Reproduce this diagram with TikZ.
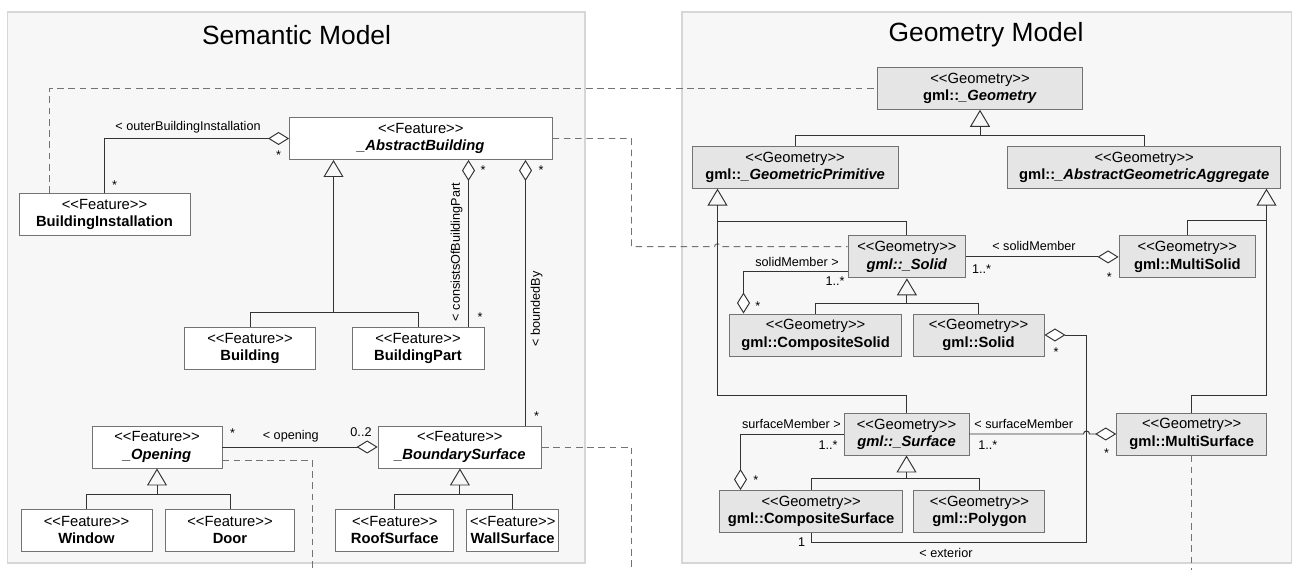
\documentclass[tikz,border=0pt]{standalone}
\usepackage{fontspec}
\newfontfamily\umlfont{Liberation Sans}
\usetikzlibrary{arrows.meta,calc}
\definecolor{panelfill}{HTML}{F7F7F7}
\definecolor{paneldraw}{HTML}{D6D6D6}
\definecolor{geofill}{HTML}{E5E5E5}
\newcommand{\stereo}[1]{<<#1>>}

\begin{document}
\begin{tikzpicture}[
    x=0.2mm, y=-0.2mm,
    line width=0.55pt,
    panel/.style={draw=paneldraw, fill=panelfill, line width=1pt},
    title/.style={font=\umlfont\fontsize{15}{18}\selectfont},
    cls/.style={draw=black!55, fill=white, align=center, inner sep=0pt,
        minimum height=8.4mm, font=\umlfont\fontsize{8.4}{9.8}\selectfont},
    geo/.style={cls, fill=geofill},
    gen/.style={draw=black!80, -{Triangle[open, width=4mm, length=3.4mm]}},
    agg/.style={draw=black!80, -{Diamond[fill=white, width=2.6mm, length=4.2mm]}},
    assoc/.style={draw=black!80},
    dep/.style={draw=black!55, dash pattern=on 3.8pt off 2.6pt},
    lbl/.style={font=\umlfont\fontsize{7.2}{8}\selectfont, inner sep=0pt}
]
    \useasboundingbox (0,0) rectangle (1293,570);

    % Panels
    \draw[panel] (7.5,11.7) rectangle (585,563);
    \draw[panel] (682,11.7) rectangle (1291.5,563);
    \node[title] (semTitle) at (296.5,35) {Semantic Model};
    \node[title] (geoTitle) at (986,35) {Geometry Model};

    % Semantic classes
    \node[cls, minimum width=52.5mm] (abstrBldg) at (420.8,138.5) {\stereo{Feature}\\\textbf{\textit{\_AbstractBuilding}}};
    \node[cls, minimum width=34.2mm] (bldgInst) at (104.5,214.5) {\stereo{Feature}\\\textbf{BuildingInstallation}};
    \node[cls, minimum width=26.3mm] (bldg) at (250,348.3) {\stereo{Feature}\\\textbf{Building}};
    \node[cls, minimum width=26.4mm] (bldgPart) at (418,348.3) {\stereo{Feature}\\\textbf{BuildingPart}};
    \node[cls, minimum width=26mm] (opening) at (157,447) {\stereo{Feature}\\\textbf{\textit{\_Opening}}};
    \node[cls, minimum width=32.7mm] (bndSurf) at (459.9,447) {\stereo{Feature}\\\textbf{\textit{\_BoundarySurface}}};
    \node[cls, minimum width=26.2mm] (window) at (86.5,530) {\stereo{Feature}\\\textbf{Window}};
    \node[cls, minimum width=25.8mm] (door) at (230,530) {\stereo{Feature}\\\textbf{Door}};
    \node[cls, minimum width=23.6mm] (roof) at (394.8,530) {\stereo{Feature}\\\textbf{RoofSurface}};
    \node[cls, minimum width=18.5mm] (wall) at (512.7,530) {\stereo{Feature}\\\textbf{WallSurface}};

    % Geometry classes
    \node[geo, minimum width=41.1mm] (geometry) at (980,88.3) {\stereo{Geometry}\\\textbf{gml::\textit{\_Geometry}}};
    \node[geo, minimum width=41.2mm] (primitive) at (795.1,167.2) {\stereo{Geometry}\\\textbf{gml::\textit{\_GeometricPrimitive}}};
    \node[geo, minimum width=54.6mm] (aggregate) at (1144.2,167.2) {\stereo{Geometry}\\\textbf{gml::\textit{\_AbstractGeometricAggregate}}};
    \node[geo, minimum width=23.5mm] (solidA) at (906.9,256.9) {\stereo{Geometry}\\\textbf{\textit{gml::\_Solid}}};
    \node[geo, minimum width=27.3mm] (multiSolid) at (1187.3,256.9) {\stereo{Geometry}\\\textbf{gml::MultiSolid}};
    \node[geo, minimum width=34.4mm] (compSolid) at (815.6,335) {\stereo{Geometry}\\\textbf{gml::CompositeSolid}};
    \node[geo, minimum width=26.2mm] (solid) at (978.5,335) {\stereo{Geometry}\\\textbf{gml::Solid}};
    \node[geo, minimum width=25mm] (surfA) at (906.5,434) {\stereo{Geometry}\\\textbf{\textit{gml::\_Surface}}};
    \node[geo, minimum width=30mm] (multiSurf) at (1191.7,434) {\stereo{Geometry}\\\textbf{gml::MultiSurface}};
    \node[geo, minimum width=36.5mm] (compSurf) at (811.2,511.5) {\stereo{Geometry}\\\textbf{gml::CompositeSurface}};
    \node[geo, minimum width=26.2mm] (polygon) at (979.4,511.5) {\stereo{Geometry}\\\textbf{gml::Polygon}};

    % Dependencies semantic -> geometry
    \draw[dep] (49.5,0 |- bldgInst.north) |- (geometry.west);
    \draw[dep] (abstrBldg.east) -| (631.5,246.7) -- (714.5,246.7)
        arc[start angle=180, end angle=0, radius=0.6mm] -- (solidA.west |- 0,246.7);
    \draw[dep] (bndSurf.east) -| (631.5,570);
    \draw[dep] (opening.east |- 0,460) -| (312.5,570);
    \draw[dep] (multiSurf.south) -- (multiSurf.south |- 0,570);

    % Semantic generalisations
    \draw[gen] (bldg.north) |- (333.5,312.5) -- (333.5,0 |- abstrBldg.south);
    \draw[assoc] (bldgPart.north) |- (333.5,312.5);
    \draw[gen] (window.north) |- (opening.south |- 0,494.5) -- (opening.south);
    \draw[assoc] (door.north) |- (opening.south |- 0,494.5);
    \draw[gen] (roof.north) |- (bndSurf.south |- 0,494.5) -- (bndSurf.south);
    \draw[assoc] (wall.north) |- (bndSurf.south |- 0,494.5);

    % Semantic aggregations
    \draw[agg] (bldgInst.north) |- (abstrBldg.west);
    \draw[agg] (468.5,0 |- bldgPart.north) -- (468.5,0 |- abstrBldg.south);
    \draw[agg] (525.5,0 |- bndSurf.north) -- (525.5,0 |- abstrBldg.south);
    \draw[agg] (opening.east) -- (bndSurf.west);

    \node[lbl] (lOuter) at (188,127.7) {< outerBuildingInstallation};
    \node[lbl] at (278.6,155) {*};
    \node[lbl] at (114.5,185) {*};
    \node[lbl] at (483,170) {*};
    \node[lbl] at (541,170) {*};
    \node[lbl] at (480,316.7) {*};
    \node[lbl] at (536.6,415.7) {*};
    \node[lbl, rotate=90] (lParts) at (456.6,252) {< consistsOfBuildingPart};
    \node[lbl, rotate=90] (lBounded) at (536.6,309) {< boundedBy};
    \node[lbl] (lOpening) at (290.8,436.7) {< opening};
    \node[lbl] at (232.7,433) {*};
    \node[lbl] at (361,431.7) {0..2};

    % Geometry generalisations
    \draw[gen] (primitive.north) |- (geometry.south |- 0,135.5) -- (geometry.south);
    \draw[assoc] (aggregate.north) |- (geometry.south |- 0,135.5);
    \draw[gen] (surfA.north) |- (717.5,395.5) -- (717.5,0 |- primitive.south);
    \draw[assoc] (solidA.north) |- (717.5,221.5);
    \draw[gen] (multiSurf.north) |- (1266.5,395.5) -- (1266.5,0 |- aggregate.south);
    \draw[assoc] (multiSolid.north) |- (1266.5,220.5);
    \draw[gen] (compSolid.north) |- (solidA.south |- 0,303.5) -- (solidA.south);
    \draw[assoc] (solid.north) |- (solidA.south |- 0,303.5);
    \draw[gen] (compSurf.north) |- (surfA.south |- 0,478.5) -- (surfA.south);
    \draw[assoc] (polygon.north) |- (surfA.south |- 0,478.5);

    % Geometry aggregations
    \draw[agg] (solidA.east) -- (multiSolid.west);
    \draw[agg] (solidA.west |- 0,271.5) -| (743.5,0 |- compSolid.north);
    \draw[agg] (surfA.west) -| (740.5,0 |- compSurf.north);
    \draw[agg] (surfA.east) -- (1083.5,434)
        arc[start angle=180, end angle=0, radius=0.6mm] -- (multiSurf.west);
    \draw[agg] (compSurf.south) |- (1086.5,542.5) |- (solid.east);

    \node[lbl] (lSolidR) at (1034,245.7) {< solidMember};
    \node[lbl] at (981.5,269.3) {1..*};
    \node[lbl] at (1109.4,276.7) {*};
    \node[lbl] (lSolidL) at (797,261.7) {solidMember >};
    \node[lbl] at (835,281) {1..*};
    \node[lbl] at (757.9,306) {*};
    \node[lbl] at (1056,352) {*};
    \node[lbl] (lSurfL) at (791.4,424.3) {surfaceMember >};
    \node[lbl] at (828,445) {1..*};
    \node[lbl] at (755.8,480) {*};
    \node[lbl] (lSurfR) at (1023.8,424.3) {< surfaceMember};
    \node[lbl] at (987.8,445) {1..*};
    \node[lbl] at (1106.5,452.7) {*};
    \node[lbl] at (801.6,542.3) {1};
    \node[lbl] (lExterior) at (946,553.3) {< exterior};
\end{tikzpicture}
\end{document}
